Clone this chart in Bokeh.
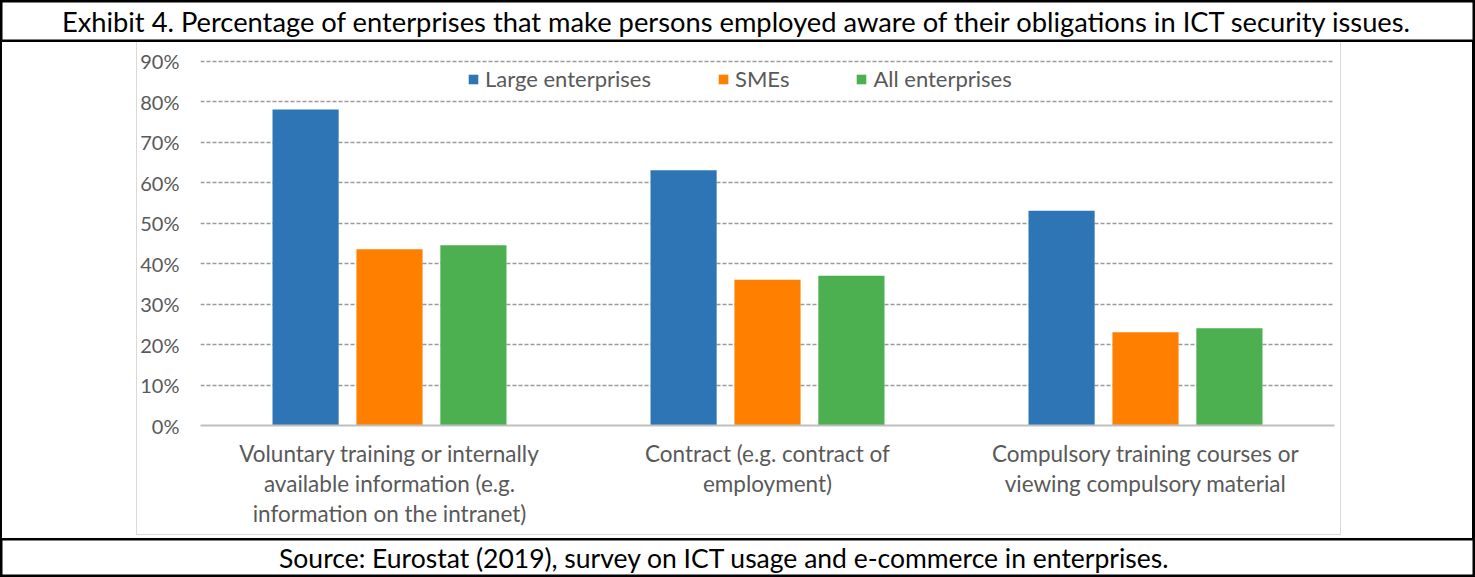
from bokeh.plotting import figure
from bokeh.models import (ColumnDataSource, FixedTicker, NumeralTickFormatter, Legend,
                          LegendItem, Label, Range1d, Spacer, FactorRange)
from bokeh.transform import dodge
from bokeh.layouts import column, row
from bokeh.embed import file_html
from bokeh.resources import INLINE

# ---------------- data ----------------
categories = [
    "Voluntary training or internally\navailable information (e.g.\ninformation on the intranet)",
    "Contract (e.g. contract of\nemployment)",
    "Compulsory training courses or\nviewing compulsory material",
]
series_names = ["Large enterprises", "SMEs", "All enterprises"]
large = [0.78, 0.63, 0.53]
smes = [0.435, 0.36, 0.23]
all_ent = [0.445, 0.37, 0.24]
y_ticks = [0.0, 0.1, 0.2, 0.3, 0.4, 0.5, 0.6, 0.7, 0.8, 0.9]

title_text = ("Exhibit 4. Percentage of enterprises that make persons employed aware "
              "of their obligations in ICT security issues.")
source_text = "Source: Eurostat (2019), survey on ICT usage and e-commerce in enterprises."

colors = ["#2E75B6", "#FF8000", "#4CAF50"]
FONT = "Lato"
TXT = "#595959"

# ---------------- chart ----------------
src = ColumnDataSource(dict(cat=categories, large=large, smes=smes, all_ent=all_ent))

p = figure(x_range=FactorRange(factors=categories), y_range=Range1d(0, 0.9062),
           width=1203, height=492, output_backend="svg", toolbar_location=None,
           min_border_left=63, min_border_right=6, min_border_top=16,
           min_border_bottom=109)
p.outline_line_color = None

offsets = [-0.222, 0.0, 0.222]
fields = ["large", "smes", "all_ent"]
renderers = []
for off, fld, col in zip(offsets, fields, colors):
    r = p.vbar(x=dodge("cat", off, range=p.x_range), top=fld, width=0.175,
               source=src, fill_color=col, line_color=None)
    renderers.append(r)

p.xgrid.visible = False
p.ygrid.ticker = FixedTicker(ticks=y_ticks)
p.ygrid.grid_line_color = "#9a9a9a"
p.ygrid.grid_line_dash = "4 2"
p.ygrid.grid_line_width = 1.5

p.yaxis.ticker = FixedTicker(ticks=y_ticks)
p.yaxis.formatter = NumeralTickFormatter(format="0%")
p.yaxis.axis_line_color = None
p.yaxis.major_tick_line_color = None
p.yaxis.minor_tick_line_color = None
p.yaxis.major_tick_out = 0
p.yaxis.major_tick_in = 0
p.yaxis.major_label_standoff = 21
p.yaxis.major_label_text_font = FONT
p.yaxis.major_label_text_font_size = "20px"
p.yaxis.major_label_text_color = TXT

p.xaxis.axis_line_color = "#bfbfbf"
p.xaxis.axis_line_width = 2
p.xaxis.major_tick_line_color = None
p.xaxis.major_tick_out = 0
p.xaxis.major_tick_in = 0
p.xaxis.major_label_standoff = 14
p.xaxis.major_label_text_font = FONT
p.xaxis.major_label_text_font_size = "22.5px"
p.xaxis.major_label_text_color = TXT
p.xaxis.major_label_text_line_height = 1.12

legend = Legend(items=[LegendItem(label=n, renderers=[r]) for n, r in zip(series_names, renderers)],
                orientation="horizontal", location=(267, 333),
                border_line_color=None, background_fill_alpha=0,
                padding=0, margin=0, spacing=66, glyph_width=12, glyph_height=12,
                label_standoff=6, label_height=22,
                label_text_font=FONT, label_text_font_size="22px", label_text_color=TXT)
p.add_layout(legend, "center")

# ---------------- title row ----------------
t = figure(width=1475, height=42, x_range=Range1d(0, 1475), y_range=Range1d(0, 42),
           x_axis_type=None, y_axis_type=None, min_border=0,
           toolbar_location=None, output_backend="svg")
t.grid.visible = False
t.outline_line_color = "black"
t.outline_line_width = 4
t.add_layout(Label(x=737, y=21, text=title_text, text_align="center",
                   text_baseline="middle", text_font=FONT, text_font_size="27.3px",
                   text_color="black"))

# ---------------- source row ----------------
s = figure(width=1475, height=39, x_range=Range1d(0, 1475), y_range=Range1d(0, 39),
           x_axis_type=None, y_axis_type=None, min_border=0,
           toolbar_location=None, output_backend="svg")
s.grid.visible = False
s.outline_line_color = "black"
s.outline_line_width = 4
s.add_layout(Label(x=724, y=20, text=source_text, text_align="center",
                   text_baseline="middle", text_font=FONT, text_font_size="26.5px",
                   text_color="black"))


def bar(w, h, color):
    return Spacer(width=w, height=h, styles={"background-color": color})


FRAME = "#d9d9d9"
chart_box = column(
    row(bar(1, 492, FRAME), p, bar(1, 492, FRAME)),
    bar(1205, 1, FRAME),
    bar(1205, 3, "white"),
)
middle = row(bar(2, 496, "black"), bar(134, 496, "white"), chart_box,
             bar(131, 496, "white"), bar(3, 496, "black"))

layout = column(t, middle, s)

open("out.html", "w").write(file_html(layout, INLINE))
